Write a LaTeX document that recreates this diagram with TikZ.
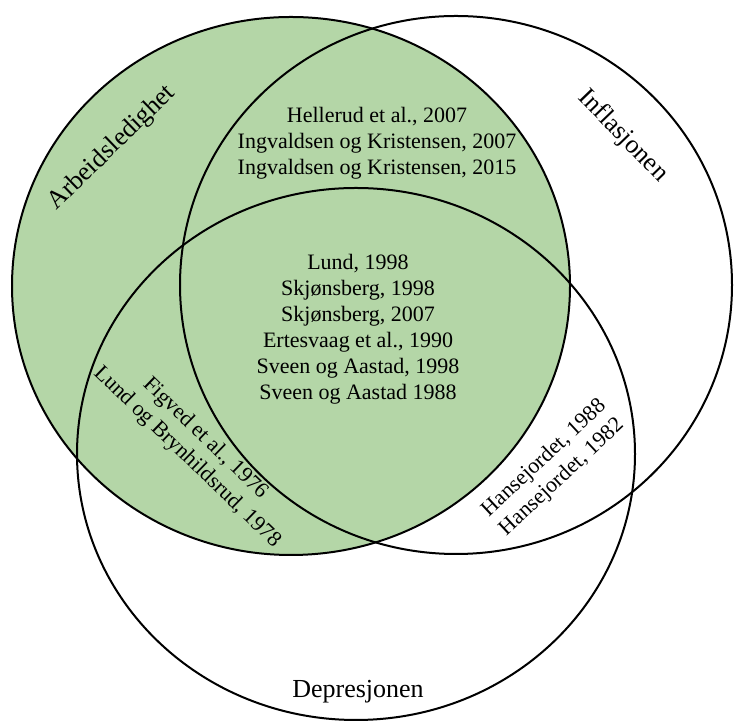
\documentclass[tikz,border=0pt]{standalone}
\usepackage{fontspec}
\setmainfont{Liberation Serif}
\usetikzlibrary{shapes.geometric}
\definecolor{setfill}{RGB}{180,214,167}
\begin{document}
\begin{tikzpicture}[x=1pt,y=1pt,
  setline/.style={ellipse,draw=black,line width=2pt,inner sep=0pt},
  entries/.style={align=center,font=\fontsize{22}{26}\selectfont,inner sep=0pt},
  setname/.style={font=\fontsize{26}{30}\selectfont,inner sep=0pt}]
\useasboundingbox (0,0) rectangle (734,722);
% the three sets
\node[setline,fill=setfill,minimum width=558pt,minimum height=538pt] (arb) at (291,436) {};
\node[setline,minimum width=552pt,minimum height=538pt] (inf) at (456,437) {};
\node[setline,minimum width=558pt,minimum height=532pt] (dep) at (356,268) {};
% set names
\node[setname,rotate=44] (arbname) at (112,574) {Arbeidsledighet};
\node[setname,rotate=-46] (infname) at (623,586) {Inflasjonen};
\node[setname] (depname) at (358,30) {Depresjonen};
% studies in each region
\node[entries] (ai) at (377,579) {Hellerud et al., 2007\\Ingvaldsen og Kristensen, 2007\\Ingvaldsen og Kristensen, 2015};
\node[entries] (aid) at (358,393) {Lund, 1998\\Skjønsberg, 1998\\Skjønsberg, 2007\\Ertesvaag et al., 1990\\Sveen og Aastad, 1998\\Sveen og Aastad 1988};
\node[entries,rotate=-44] (ad) at (196,274) {Figved et al., 1976\\Lund og Brynhildsrud, 1978};
\node[entries,rotate=43] (id) at (553,254) {Hansejordet, 1988\\Hansejordet, 1982};
\end{tikzpicture}
\end{document}
